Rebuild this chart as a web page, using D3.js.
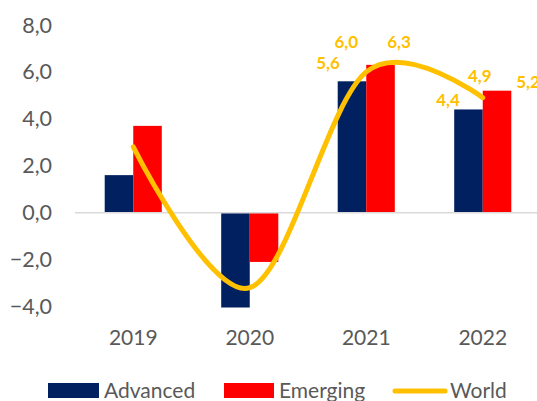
<!DOCTYPE html>
<html>
<head>
<meta charset="utf-8">
<script src="https://cdn.jsdelivr.net/npm/d3@7"></script>
<style>
  body { margin: 0; background: #fff; }
  text { font-family: Lato, "Open Sans", sans-serif; }
</style>
</head>
<body>
<div id="chart"></div>
<script>
// data
const years = ["2019", "2020", "2021", "2022"];
const seriesNames = ["Advanced", "Emerging"];
const advanced = [1.6, -4.6, 5.6, 4.4];
const emerging = [3.7, -2.1, 6.3, 5.2];
const world = [2.8, -3.2, 6.0, 4.9];
const yTicks = [-4, -2, 0, 2, 4, 6, 8];
const labelYears = ["2021", "2022"];

// label nudges (dx, dy) relative to the mark
const labelOffsets = {
  "Advanced-2021": [-24, -12], "Emerging-2021": [18.5, -16.6], "World-2021": [-20, -23.6],
  "Advanced-2022": [-20.5, -3.8], "Emerging-2022": [31, -2.7], "World-2022": [-3, -15.7]
};

const colors = {Advanced: "#002060", Emerging: "#FF0000", World: "#FFC000"};
const width = 537, height = 401;
const plot = {left: 75, right: 541, top: 25, bottom: 306.5};

const svg = d3.select("#chart")
  .append("svg")
    .attr("width", width)
    .attr("height", height);

// scales
const x = d3.scaleBand()
  .domain(years)
  .range([plot.left, plot.right])
  .paddingInner(0.51)
  .paddingOuter(0.255);

const x1 = d3.scaleBand()
  .domain(seriesNames)
  .range([0, x.bandwidth()]);

const y = d3.scaleLinear()
  .domain([-4, 8])
  .range([plot.bottom, plot.top]);

const fmt = v => d3.format(".1f")(v).replace(".", ",").replace("-", "\u2013");

// y tick labels
svg.append("g")
  .selectAll("text")
  .data(yTicks)
  .join("text")
    .attr("x", 52)
    .attr("y", d => y(d))
    .attr("dy", "0.35em")
    .attr("text-anchor", "end")
    .attr("fill", "#595959")
    .style("font-size", "21.5px")
    .text(d => fmt(d));

// year labels
svg.append("g")
  .selectAll("text")
  .data(years)
  .join("text")
    .attr("x", d => x(d) + x.bandwidth() / 2)
    .attr("y", 345)
    .attr("text-anchor", "middle")
    .attr("fill", "#595959")
    .style("font-size", "21px")
    .text(d => d);

// bars
svg.append("clipPath").attr("id", "plotClip")
  .append("rect")
    .attr("x", 0).attr("y", plot.top - 5)
    .attr("width", width).attr("height", plot.bottom - plot.top + 6);

const barData = [];
years.forEach((yr, i) => {
  barData.push({series: "Advanced", year: yr, value: advanced[i]});
  barData.push({series: "Emerging", year: yr, value: emerging[i]});
});

svg.append("g")
  .attr("clip-path", "url(#plotClip)")
  .selectAll("rect")
  .data(barData)
  .join("rect")
    .attr("x", d => x(d.year) + x1(d.series))
    .attr("width", x1.bandwidth())
    .attr("y", d => y(Math.max(0, d.value)))
    .attr("height", d => Math.abs(y(d.value) - y(0)))
    .attr("fill", d => colors[d.series]);

// zero line
svg.append("line")
  .attr("x1", plot.left)
  .attr("x2", width)
  .attr("y1", y(0))
  .attr("y2", y(0))
  .attr("stroke", "#d9d9d9")
  .attr("stroke-width", 1.5);

// world line
const worldData = years.map((yr, i) => ({year: yr, value: world[i]}));
svg.append("path")
  .datum(worldData)
  .attr("fill", "none")
  .attr("stroke", colors.World)
  .attr("stroke-width", 5)
  .attr("stroke-linecap", "round")
  .attr("d", d3.line()
    .curve(d3.curveCardinal.tension(0))
    .x(d => x(d.year) + x.bandwidth() / 2)
    .y(d => y(d.value)));

// data labels
const labels = [];
barData.filter(d => labelYears.includes(d.year)).forEach(d => {
  labels.push({key: d.series + "-" + d.year, value: d.value,
    px: x(d.year) + x1(d.series) + x1.bandwidth() / 2, py: y(d.value)});
});
worldData.filter(d => labelYears.includes(d.year)).forEach(d => {
  labels.push({key: "World-" + d.year, value: d.value,
    px: x(d.year) + x.bandwidth() / 2, py: y(d.value)});
});

svg.append("g")
  .selectAll("text")
  .data(labels)
  .join("text")
    .attr("x", d => d.px + labelOffsets[d.key][0])
    .attr("y", d => d.py + labelOffsets[d.key][1])
    .attr("text-anchor", "middle")
    .attr("fill", colors.World)
    .style("font-size", "17px")
    .style("font-weight", "bold")
    .text(d => fmt(d.value));

// legend
const legend = svg.append("g");
legend.append("rect").attr("x", 48).attr("y", 383).attr("width", 51).attr("height", 15).attr("fill", colors.Advanced);
legend.append("text").attr("x", 104).attr("y", 398).attr("fill", "#595959").style("font-size", "21px").text("Advanced");
legend.append("rect").attr("x", 224).attr("y", 383).attr("width", 50).attr("height", 15).attr("fill", colors.Emerging);
legend.append("text").attr("x", 279).attr("y", 398).attr("fill", "#595959").style("font-size", "21px").text("Emerging");
legend.append("line").attr("x1", 395).attr("x2", 445).attr("y1", 391).attr("y2", 391)
  .attr("stroke", colors.World).attr("stroke-width", 5).attr("stroke-linecap", "round");
legend.append("text").attr("x", 450).attr("y", 398).attr("fill", "#595959").style("font-size", "21px").text("World");
</script>
</body>
</html>
